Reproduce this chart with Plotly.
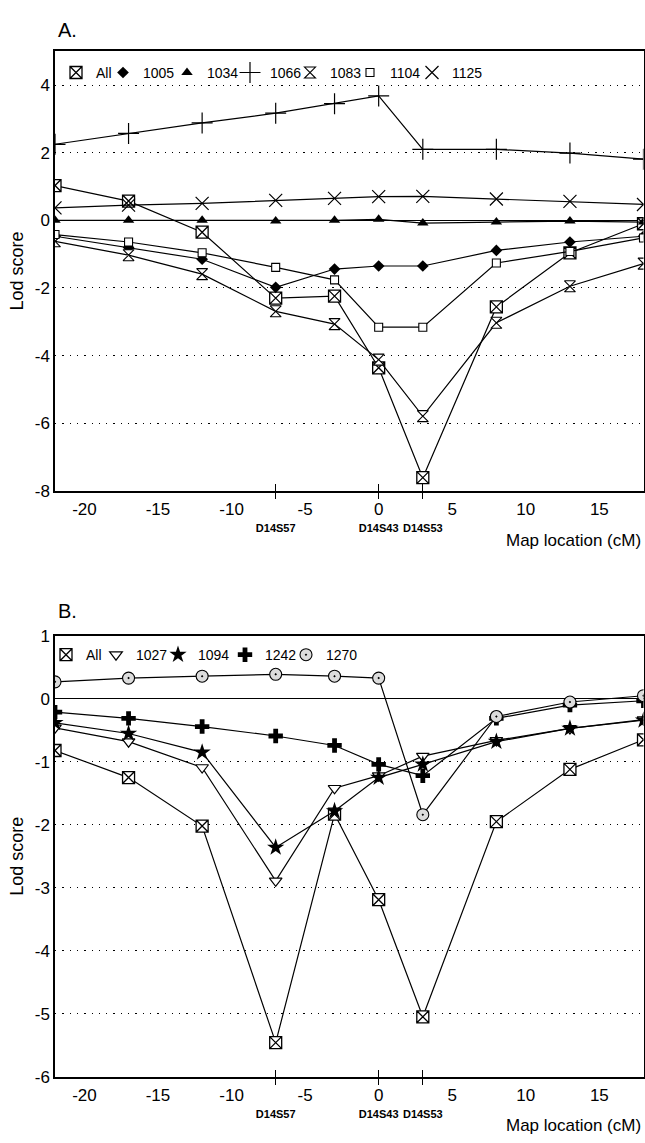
import plotly.graph_objects as go

# ---------------- data ----------------
x_cm = [-22, -17, -12, -7, -3, 0, 3, 8, 13, 18]

a_all = [1.03, 0.57, -0.35, -2.30, -2.24, -4.36, -7.61, -2.56, -0.96, -0.10]
a_1005 = [-0.47, -0.80, -1.15, -1.98, -1.44, -1.35, -1.35, -0.89, -0.64, -0.47]
a_1034 = [0.0, 0.0, 0.0, -0.02, 0.0, 0.03, -0.08, -0.05, -0.02, -0.05]
a_1066 = [2.25, 2.57, 2.88, 3.17, 3.45, 3.68, 2.10, 2.10, 1.99, 1.81]
a_1083 = [-0.62, -1.03, -1.59, -2.69, -3.07, -4.12, -5.79, -3.03, -1.95, -1.28]
a_1104 = [-0.42, -0.64, -0.96, -1.39, -1.76, -3.16, -3.16, -1.26, -0.92, -0.52]
a_1125 = [0.37, 0.45, 0.50, 0.59, 0.65, 0.70, 0.71, 0.63, 0.56, 0.47]

b_all = [-0.82, -1.25, -2.02, -5.46, -1.83, -3.19, -5.05, -1.95, -1.12, -0.65]
b_1027 = [-0.46, -0.68, -1.09, -2.89, -1.42, -1.22, -0.91, -0.66, -0.47, -0.33]
b_1094 = [-0.38, -0.55, -0.85, -2.36, -1.78, -1.25, -1.04, -0.68, -0.47, -0.34]
b_1242 = [-0.21, -0.31, -0.44, -0.59, -0.74, -1.04, -1.22, -0.31, -0.10, -0.03]
b_1270 = [0.27, 0.33, 0.36, 0.39, 0.36, 0.33, -1.84, -0.28, -0.05, 0.05]

x_ticks = [-20, -15, -10, -5, 0, 5, 10, 15]
x_ticktext = ["-20", "-15", "-10", "-5", "0", "5", "10", "15"]
marker_pos = [-7, 0, 3]
marker_names = ["D14S57", "D14S43", "D14S53"]
ya_ticks = [-8, -6, -4, -2, 0, 2, 4]
ya_ticktext = ["-8", "-6", "-4", "-2", "0", "2", "4"]
yb_ticks = [-6, -5, -4, -3, -2, -1, 0, 1]
yb_ticktext = ["-6", "-5", "-4", "-3", "-2", "-1", "0", "1"]

# ---------------- geometry / layout ----------------
W, H = 645, 1143
FONT = "Liberation Sans, Arial, sans-serif"

# legend entry positions (pixels): symbol centres and row centre
leg_a_px = [76, 123, 187, 250, 310, 370, 432]
leg_a_row = 65
leg_b_px = [66, 116, 178, 245, 306]
leg_b_row = 657


def px_x(p):
    return p / W


def px_y(p):
    return 1 - p / H


xdom = [px_x(55), px_x(643.5)]
ya_dom = [px_y(490), px_y(43)]
yb_dom = [px_y(1085.7), px_y(637.5)]

fig = go.Figure()

series_a = [
    ("All", a_all, dict(symbol="square-x", size=12, color="white", line=dict(color="black", width=1.3))),
    ("1005", a_1005, dict(symbol="diamond", size=9, color="black", line=dict(color="black", width=0))),
    ("1034", a_1034, dict(symbol="triangle-up", size=10, color="black", line=dict(color="black", width=0))),
    ("1066", a_1066, dict(symbol="cross-thin-open", size=15, color="black", line=dict(color="black", width=1.2))),
    ("1083", a_1083, dict(symbol="hourglass", size=11, color="white", line=dict(color="black", width=1.1))),
    ("1104", a_1104, dict(symbol="square", size=8, color="white", line=dict(color="black", width=1.1))),
    ("1125", a_1125, dict(symbol="x-thin-open", size=13, color="black", line=dict(color="black", width=1.2))),
]

series_b = [
    ("All", b_all, dict(symbol="square-x", size=12, color="white", line=dict(color="black", width=1.3))),
    ("1027", b_1027, dict(symbol="triangle-down", size=11, color="white", line=dict(color="black", width=1.2))),
    ("1094", b_1094, dict(symbol="star", size=13, color="black", line=dict(color="black", width=0))),
    ("1242", b_1242, dict(symbol="cross", size=12, color="black", line=dict(color="black", width=0))),
    ("1270", b_1270, dict(symbol="circle-dot", size=12, color="#dcdcdc", line=dict(color="black", width=1.1))),
]

legend_layout = {}
leg_common = dict(xanchor="left", yanchor="middle", bgcolor="rgba(0,0,0,0)",
                  font=dict(size=14, color="black", family=FONT), itemwidth=30,
                  orientation="h", borderwidth=0)
leg_idx = 0


def next_legend(sym_px, row_px):
    global leg_idx
    leg_idx += 1
    key = "legend" if leg_idx == 1 else f"legend{leg_idx}"
    legend_layout[key] = dict(x=px_x(sym_px - 20), y=px_y(row_px), **leg_common)
    return key


for name, vals, mk in series_a:
    fig.add_trace(go.Scatter(x=x_cm, y=vals, mode="lines+markers", name=name,
                             line=dict(color="black", width=1.2), marker=mk,
                             xaxis="x", yaxis="y", showlegend=False))
for (name, vals, mk), sp in zip(series_a, leg_a_px):
    key = next_legend(sp, leg_a_row)
    fig.add_trace(go.Scatter(x=[None], y=[None], mode="markers", name=name, marker=mk,
                             xaxis="x", yaxis="y", showlegend=True, legend=key))

for name, vals, mk in series_b:
    fig.add_trace(go.Scatter(x=x_cm, y=vals, mode="lines+markers", name=name,
                             line=dict(color="black", width=1.2), marker=mk,
                             xaxis="x2", yaxis="y2", showlegend=False))
for (name, vals, mk), sp in zip(series_b, leg_b_px):
    key = next_legend(sp, leg_b_row)
    fig.add_trace(go.Scatter(x=[None], y=[None], mode="markers", name=name, marker=mk,
                             xaxis="x2", yaxis="y2", showlegend=True, legend=key))

grid = dict(showgrid=True, gridcolor="black", gridwidth=1.3, griddash="1.3px,6px",
            zeroline=True, zerolinecolor="black", zerolinewidth=1.1)
frame = dict(showline=True, mirror=True, linecolor="black", linewidth=1.5)

main_x = dict(domain=xdom, range=[-22, 18], tickvals=x_ticks, ticktext=x_ticktext, ticks="",
              showgrid=False, zeroline=False, tickfont=dict(size=17, color="black", family=FONT),
              ticklabelstandoff=2, **frame)
mark_out = dict(range=[-22, 18], tickvals=marker_pos, ticktext=marker_names, ticks="outside",
                ticklen=7, tickwidth=1.2, tickcolor="black", showgrid=False, zeroline=False,
                showline=False, tickfont=dict(size=11, color="black", family=FONT, weight="bold"),
                ticklabelstandoff=20)
mark_in = dict(range=[-22, 18], tickvals=marker_pos, ticks="inside", ticklen=7, tickwidth=1.2,
               tickcolor="black", showgrid=False, zeroline=False, showline=False,
               showticklabels=False)

ytitle = dict(text="Lod score", font=dict(size=18, color="black", family=FONT), standoff=6)

fig.update_layout(
    width=W, height=H,
    margin=dict(l=0, r=0, t=0, b=0),
    paper_bgcolor="white", plot_bgcolor="white",
    font=dict(family=FONT, color="black"),
    xaxis=dict(anchor="y", **main_x),
    yaxis=dict(domain=ya_dom, range=[-8, 5], tickvals=ya_ticks, ticktext=ya_ticktext, ticks="",
               tickfont=dict(size=17, color="black", family=FONT), title=ytitle,
               anchor="x", **grid, **frame),
    xaxis3=dict(overlaying="x", anchor="y", side="bottom", **mark_out),
    xaxis4=dict(overlaying="x", anchor="y", side="bottom", **mark_in),
    xaxis2=dict(anchor="y2", **main_x),
    yaxis2=dict(domain=yb_dom, range=[-6, 1], tickvals=yb_ticks, ticktext=yb_ticktext, ticks="",
                tickfont=dict(size=17, color="black", family=FONT), title=ytitle,
                anchor="x2", **grid, **frame),
    xaxis5=dict(overlaying="x2", anchor="y2", side="bottom", **mark_out),
    xaxis6=dict(overlaying="x2", anchor="y2", side="bottom", **mark_in),
    annotations=[
        dict(text="A.", x=px_x(56), y=px_y(21), xref="paper", yref="paper", xanchor="left",
             yanchor="middle", showarrow=False, font=dict(size=20, color="black", family=FONT)),
        dict(text="B.", x=px_x(56), y=px_y(612), xref="paper", yref="paper", xanchor="left",
             yanchor="middle", showarrow=False, font=dict(size=20, color="black", family=FONT)),
        dict(text="Map location (cM)", x=px_x(643), y=px_y(540), xref="paper", yref="paper",
             xanchor="right", yanchor="middle", showarrow=False,
             font=dict(size=17, color="black", family=FONT)),
        dict(text="Map location (cM)", x=px_x(643), y=px_y(1135), xref="paper", yref="paper",
             xanchor="right", yanchor="middle", showarrow=False,
             font=dict(size=17, color="black", family=FONT)),
    ],
)
fig.update_layout(**legend_layout)

# empty traces so the overlay tick axes render
for ax in ["x3", "x4"]:
    fig.add_trace(go.Scatter(x=[None], y=[None], xaxis=ax, yaxis="y", showlegend=False,
                             hoverinfo="skip"))
for ax in ["x5", "x6"]:
    fig.add_trace(go.Scatter(x=[None], y=[None], xaxis=ax, yaxis="y2", showlegend=False,
                             hoverinfo="skip"))

fig.write_html(
    "out.html",
    config={"displayModeBar": False},
    post_script="document.body.style.margin='0';document.body.style.overflow='hidden';",
)
